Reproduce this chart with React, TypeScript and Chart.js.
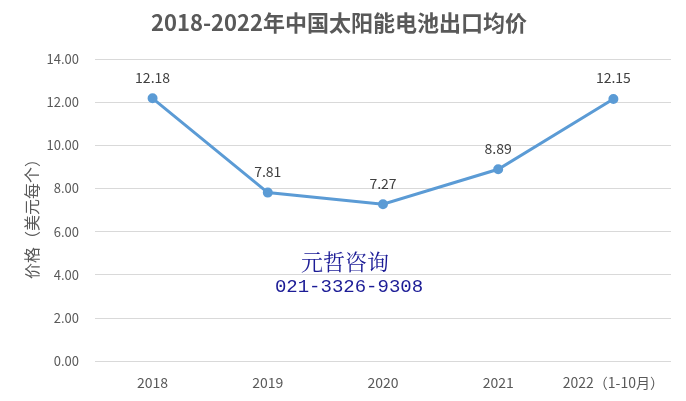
import React, { useEffect, useRef } from "react";
import { Chart, registerables } from "chart.js";

Chart.register(...registerables);

const categories = ["2018", "2019", "2020", "2021", "2022（1-10月）"];
const prices = [12.18, 7.81, 7.27, 8.89, 12.15];
const titleText = "2018-2022年中国太阳能电池出口均价";
const yTitle = "价格（美元每个）";
const watermark = ["元哲咨询", "021-3326-9308"];

const CJK = "'Noto Sans CJK SC', 'Noto Sans', sans-serif";

const labelPlugin = {
  id: "pointLabels",
  afterDatasetsDraw(chart: any) {
    const { ctx } = chart;
    const meta = chart.getDatasetMeta(0);
    ctx.save();
    ctx.fillStyle = "#404040";
    ctx.font = `14px ${CJK}`;
    ctx.textAlign = "center";
    ctx.textBaseline = "middle";
    meta.data.forEach((pt: any, i: number) => {
      ctx.fillText(prices[i].toFixed(2), pt.x, pt.y - 21);
    });
    ctx.restore();
  },
};

const textPlugin = {
  id: "texts",
  afterDraw(chart: any) {
    const { ctx, chartArea } = chart;
    ctx.save();
    // chart title
    ctx.fillStyle = "#595959";
    ctx.font = `bold 22px ${CJK}`;
    ctx.textAlign = "center";
    ctx.textBaseline = "middle";
    ctx.fillText(titleText, 339, 23);
    // y axis title
    ctx.save();
    ctx.translate(32, (chartArea.top + chartArea.bottom) / 2 + 5);
    ctx.rotate(-Math.PI / 2);
    ctx.font = `16px ${CJK}`;
    ctx.fillText(yTitle, 0, 0);
    ctx.restore();
    // watermark
    ctx.fillStyle = "#1c1c96";
    ctx.font = `22px 'Noto Serif CJK SC', 'Noto Sans CJK SC', serif`;
    ctx.fillText(watermark[0], 345, 262);
    ctx.font = `19px 'Liberation Mono', 'DejaVu Sans Mono', monospace`;
    ctx.fillText(watermark[1], 349, 287);
    ctx.restore();
  },
};

export default function App() {
  const ref = useRef<HTMLCanvasElement>(null);
  useEffect(() => {
    document.body.style.margin = "0";
    const chart = new Chart(ref.current!, {
      type: "line",
      data: {
        labels: categories,
        datasets: [
          {
            data: prices,
            borderColor: "#5B9BD5",
            backgroundColor: "#5B9BD5",
            borderWidth: 3,
            pointRadius: 3.5,
            pointBackgroundColor: "#5B9BD5",
            pointBorderColor: "#5B9BD5",
            tension: 0,
          },
        ],
      },
      options: {
        animation: false,
        responsive: false,
        maintainAspectRatio: false,
        layout: { padding: { left: 30.5, right: 15, top: 59, bottom: -3 } },
        plugins: {
          legend: { display: false },
          tooltip: { enabled: false },
          title: { display: false },
        },
        scales: {
          x: {
            offset: true,
            grid: { display: false, drawTicks: false },
            border: { display: false },
            ticks: {
              color: "#595959",
              font: { family: CJK, size: 14 },
              padding: 13,
              maxRotation: 0,
            },
          },
          y: {
            min: 0,
            max: 14,
            border: { display: false },
            grid: { color: "#d9d9d9", drawTicks: false, lineWidth: 1 },
            ticks: {
              stepSize: 2,
              color: "#595959",
              font: { family: CJK, size: 13 },
              padding: 16,
              callback: (v: any) => Number(v).toFixed(2),
            },
          },
        },
      },
      plugins: [labelPlugin, textPlugin],
    });
    return () => chart.destroy();
  }, []);
  return (
    <div style={{ width: 686, height: 401 }}>
      <canvas ref={ref} width={686} height={401} style={{ width: 686, height: 401 }} />
    </div>
  );
}
